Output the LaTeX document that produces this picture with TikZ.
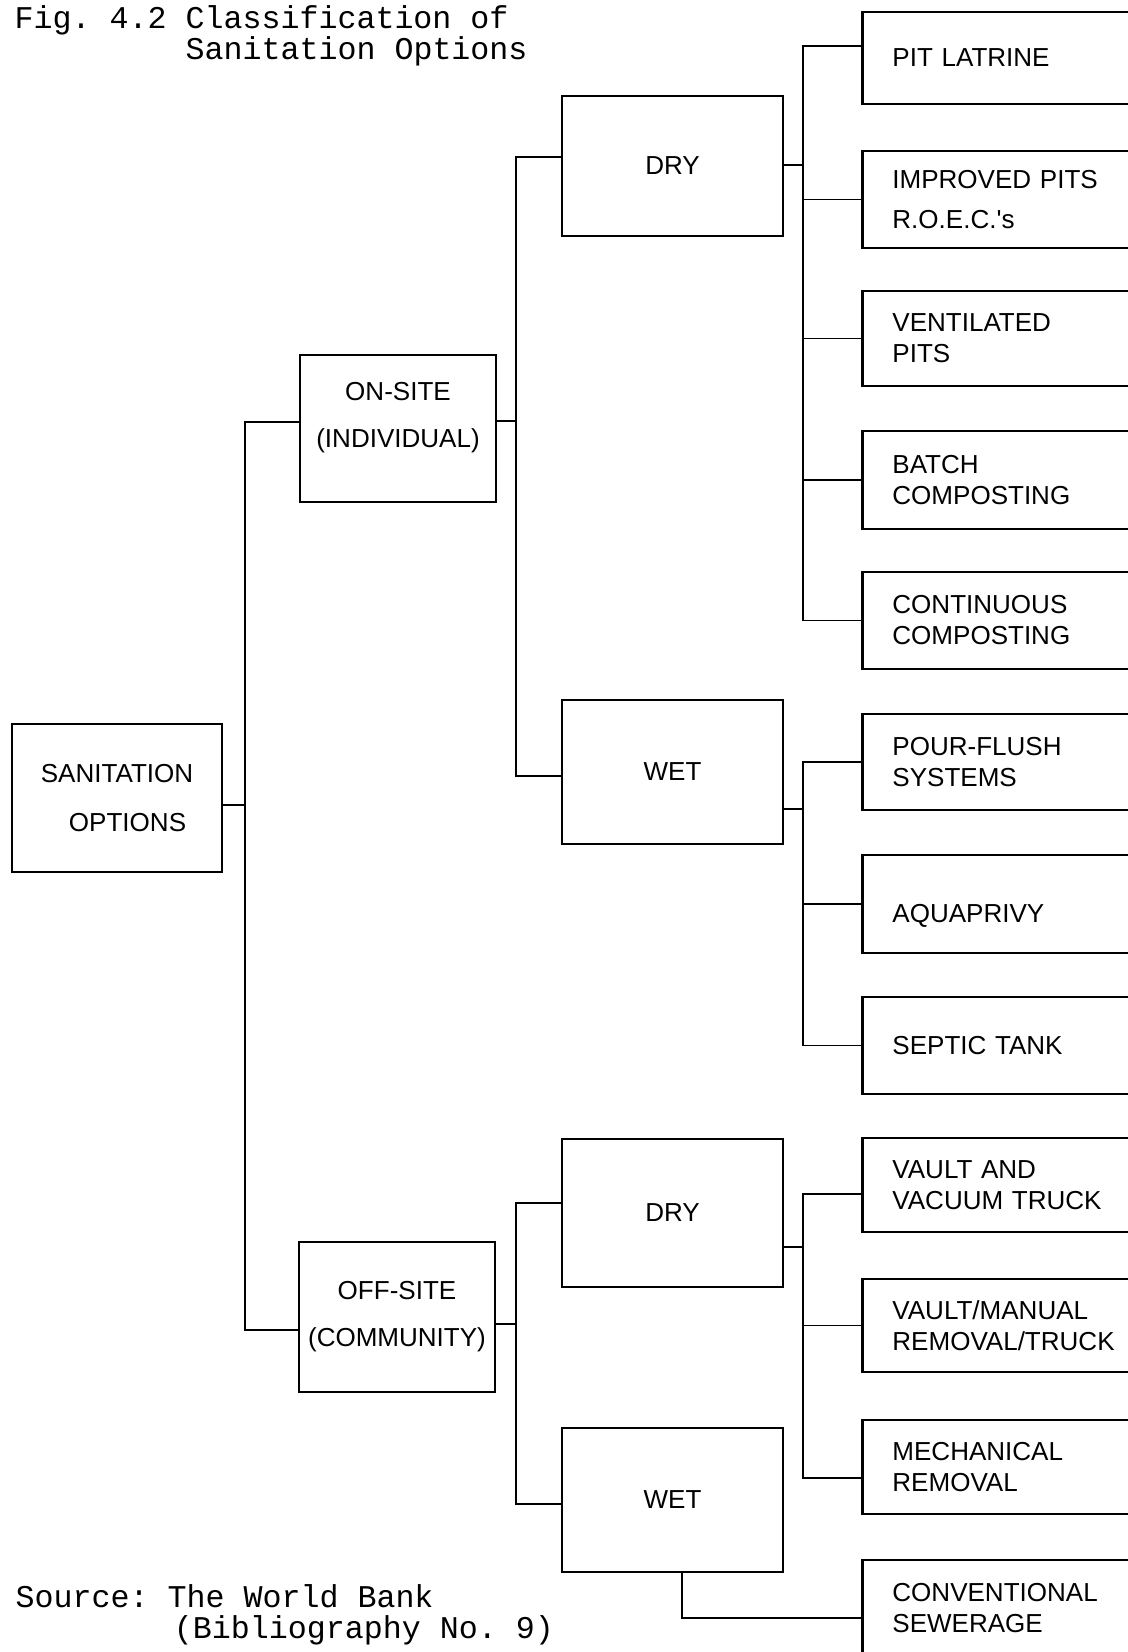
\documentclass[tikz,border=0pt]{standalone}
\usepackage{fontspec}
\newfontfamily\stencil{Liberation Sans}[WordSpace=1.6]
\newfontfamily\typewriter{Liberation Mono}
\newcommand{\letters}{\stencil\fontsize{7.4}{8.8}\selectfont}
\newcommand{\typed}{\typewriter\fontsize{9}{8.8}\selectfont\frenchspacing}
\usetikzlibrary{positioning}
\tikzset{
  box/.style={draw, line width=0.8pt, inner sep=0pt, font=\letters},
  branch/.style={box, minimum width=2.21cm, minimum height=#1, align=center},
  leaf/.style={box, anchor=west, minimum height=#1, text width=2.6cm, inner xsep=0.3cm, align=left},
  wire/.style={line width=0.5pt},
  note/.style={font=\typed, align=left, inner sep=0pt, anchor=north west}
}

\begin{document}
\begin{tikzpicture}[x=0.01cm, y=-0.01cm]
  \clip (0,0) rectangle (1128,1652);
  % root and the two ways
  \node[box, minimum width=2.1cm, minimum height=1.48cm, align=center] (root) at (117,798) {SANITATION\\[4.9pt]\hspace*{6pt}OPTIONS};
  \node[branch=1.47cm, minimum width=1.96cm] (onsite) at (398,428.5) {ON-SITE\\[4.6pt](INDIVIDUAL)\\[-1pt]\mbox{}};
  \node[branch=1.50cm, minimum width=1.96cm] (offsite) at (397,1317) {OFF-SITE\\[4.6pt](COMMUNITY)};
  % dry or wet
  \node[branch=1.40cm] (dryA) at (672.5,166) {DRY};
  \node[branch=1.44cm] (wetA) at (672.5,772) {WET};
  \node[branch=1.48cm] (dryB) at (672.5,1213) {DRY};
  \node[branch=1.44cm] (wetB) at (672.5,1500) {WET};
  % options
  \node[leaf=0.92cm] (pit) at (861,58) {PIT LATRINE};
  \node[leaf=0.97cm] (improved) at (861,199.5) {IMPROVED PITS\\[2.5pt]R.O.E.C.'s};
  \node[leaf=0.95cm] (vent) at (861,338.5) {VENTILATED\\PITS};
  \node[leaf=0.98cm] (batch) at (861,480) {BATCH\\COMPOSTING};
  \node[leaf=0.97cm] (cont) at (861,620.5) {CONTINUOUS\\COMPOSTING};
  \node[leaf=0.96cm] (pour) at (861,762) {POUR-FLUSH\\SYSTEMS};
  \node[leaf=0.98cm] (aqua) at (861,904) {\mbox{}\\[3.3pt]AQUAPRIVY};
  \node[leaf=0.97cm] (septic) at (861,1045.5) {SEPTIC TANK};
  \node[leaf=0.94cm] (vacuum) at (861,1185) {VAULT AND\\VACUUM TRUCK};
  \node[leaf=0.93cm] (manual) at (861,1325.5) {VAULT/MANUAL\\REMOVAL/TRUCK};
  \node[leaf=0.94cm] (mech) at (861,1467) {MECHANICAL\\REMOVAL};
  \node[leaf=0.96cm] (sewer) at (861,1608) {CONVENTIONAL\\SEWERAGE};
  % junctions
  \coordinate (j1) at (245,805);
  \coordinate (j2) at (516,421);
  \coordinate (j3) at (516,1324);
  \coordinate (j4) at (803,165);
  \coordinate (j5) at (803,809);
  \coordinate (j6) at (803,1247);
  % wires
  \draw[wire] (root.east |- j1) -- (j1);
  \draw[wire] ([yshift=0.065cm]onsite.west) -| (j1);
  \draw[wire] ([yshift=-0.13cm]offsite.west) -| (j1);
  \draw[wire] (onsite.east |- j2) -- (j2);
  \draw[wire] ([yshift=0.09cm]dryA.west) -| (j2);
  \draw[wire] ([yshift=-0.04cm]wetA.west) -| (j2);
  \draw[wire] (offsite.east |- j3) -- (j3);
  \draw[wire] ([yshift=0.10cm]dryB.west) -| (j3);
  \draw[wire] ([yshift=-0.04cm]wetB.west) -| (j3);
  \draw[wire] (dryA.east |- j4) -- (j4);
  \draw[wire] ([yshift=0.12cm]pit.west) -| (j4);
  \foreach \n in {improved,vent,batch,cont}
    \draw[wire] (\n.west) -| (j4);
  \draw[wire] (wetA.east |- j5) -- (j5);
  \foreach \n in {pour,aqua,septic}
    \draw[wire] (\n.west) -| (j5);
  \draw[wire] (dryB.east |- j6) -- (j6);
  \draw[wire] ([yshift=-0.09cm]vacuum.west) -| (j6);
  \draw[wire] (manual.west) -| (j6);
  \draw[wire] ([yshift=-0.11cm]mech.west) -| (j6);
  \draw[wire] ([xshift=0.095cm]wetB.south) |- ([yshift=-0.1cm]sewer.west);
  % caption and source
  \node[note] (title) at (14,5) {Fig. 4.2 Classification of\\\phantom{Fig. 4.2~}Sanitation Options};
  \node[note] (source) at (15,1584) {Source: The World Bank\\\hspace*{45pt}(Bibliography No. 9)};
\end{tikzpicture}
\end{document}
